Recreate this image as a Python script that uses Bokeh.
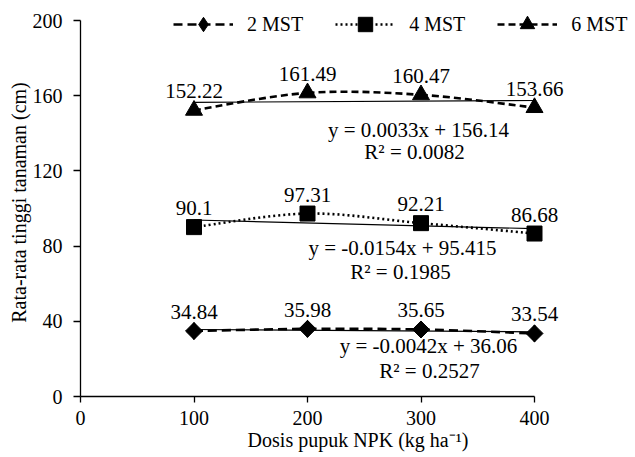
import math
from bokeh.plotting import figure
from bokeh.models import Range1d, Legend, LegendItem, Label, FixedTicker
from bokeh.embed import file_html
from bokeh.resources import INLINE
from bokeh.core.properties import value

# ---- data ----
dose = [100, 200, 300, 400]
mst2 = [34.84, 35.98, 35.65, 33.54]
mst4 = [90.1, 97.31, 92.21, 86.68]
mst6 = [152.22, 161.49, 160.47, 153.66]
series_names = ["2 MST", "4 MST", "6 MST"]
slopes = [-0.0042, -0.0154, 0.0033]
intercepts = [36.06, 95.415, 156.14]
r2 = [0.2527, 0.1985, 0.0082]
x_ticks = [0, 100, 200, 300, 400]
y_ticks = [0, 40, 80, 120, 160, 200]

FONT = "Liberation Serif"
FS = "20px"
FS_LBL = "21px"

# layout (pixels)
W, H = 635, 457
LEFT, RIGHT, TOP, BOTTOM = 80, 0, 8, 61
FRAME_W = W - LEFT - RIGHT
FRAME_H = H - TOP - BOTTOM
PX_X = 454 / 400.0    # px per x unit
PX_Y = 376 / 200.0    # px per y unit

p = figure(width=W, height=H, output_backend="svg", toolbar_location=None,
           x_range=Range1d(0, FRAME_W / PX_X), y_range=Range1d(0, FRAME_H / PX_Y),
           min_border_left=LEFT, min_border_right=RIGHT, min_border_top=TOP, min_border_bottom=BOTTOM)
p.outline_line_color = None
p.grid.visible = False
p.background_fill_color = "white"
p.border_fill_color = "white"

for ax in (p.xaxis[0], p.yaxis[0]):
    ax.axis_line_color = "black"
    ax.axis_line_width = 1.3
    ax.major_tick_line_color = "black"
    ax.major_tick_line_width = 1.3
    ax.minor_tick_line_color = None
    ax.major_tick_in = 0
    ax.major_label_text_font = FONT
    ax.major_label_text_font_size = FS
    ax.major_label_text_color = "black"
    ax.axis_label_text_font = FONT
    ax.axis_label_text_font_size = FS
    ax.axis_label_text_font_style = "normal"
    ax.axis_label_text_color = "black"

p.xaxis.ticker = FixedTicker(ticks=x_ticks)
p.yaxis.ticker = FixedTicker(ticks=y_ticks)
p.xaxis.bounds = (x_ticks[0], x_ticks[-1])
p.yaxis.bounds = (y_ticks[0], y_ticks[-1])
p.xaxis.major_tick_out = 6
p.yaxis.major_tick_out = 7
p.xaxis.major_label_standoff = 8
p.yaxis.major_label_standoff = 11
p.xaxis.axis_label = "Dosis pupuk NPK (kg ha\u207b\u00b9)"
p.yaxis.axis_label = "Rata-rata tinggi tanaman (cm)"
p.xaxis.axis_label_standoff = 1
p.yaxis.axis_label_standoff = 0


def smooth_ctrl(xs, ys):
    n = len(xs)
    out = {k: [] for k in ("x0", "y0", "x1", "y1", "cx0", "cy0", "cx1", "cy1")}
    for i in range(n - 1):
        im = max(i - 1, 0)
        ip2 = min(i + 2, n - 1)
        out["x0"].append(xs[i]); out["y0"].append(ys[i])
        out["x1"].append(xs[i + 1]); out["y1"].append(ys[i + 1])
        out["cx0"].append(xs[i] + (xs[i + 1] - xs[im]) / 6)
        out["cy0"].append(ys[i] + (ys[i + 1] - ys[im]) / 6)
        out["cx1"].append(xs[i + 1] - (xs[ip2] - xs[i]) / 6)
        out["cy1"].append(ys[i + 1] - (ys[ip2] - ys[i]) / 6)
    return out


series = [mst2, mst4, mst6]
dashes = ["9 5", "2 3", "7 4"]
legend_markers = ["diamond", "square", "triangle"]
legend_sizes = [17, 15, 17]
markers = ["square", "square", "triangle"]
angles = [math.pi / 4, 0, 0]
msizes = [12, 16, 18]
items = []
for ys, name, dash, lmk, lms, mk, ang, ms, m, b in zip(series, series_names, dashes, legend_markers,
                                                       legend_sizes, markers, angles, msizes,
                                                       slopes, intercepts):
    # linear trend line
    p.line([dose[0], dose[-1]], [m * dose[0] + b, m * dose[-1] + b], line_color="black", line_width=1.2)
    c = smooth_ctrl(dose, ys)
    bz = p.bezier(x0=c["x0"], y0=c["y0"], x1=c["x1"], y1=c["y1"],
                  cx0=c["cx0"], cy0=c["cy0"], cx1=c["cx1"], cy1=c["cy1"],
                  line_color="black", line_width=2.6, line_dash=dash)
    lsc = p.scatter(dose, ys, marker=lmk, size=lms, fill_color="black", line_color="black", line_width=1)
    if mk != lmk or ang != 0:
        p.scatter(dose, ys, marker=mk, angle=ang, size=ms, fill_color="black", line_color="black",
                  line_width=1)
    p.text(dose, ys, text=[str(v) for v in ys], text_font=value(FONT), text_font_size=FS_LBL,
           text_align="center", text_baseline="middle", y_offset=-19, text_color="black")
    items.append(LegendItem(label=name, renderers=[bz, lsc]))

legend = Legend(items=items, orientation="horizontal", location=(93, FRAME_H - 34),
                glyph_width=60, glyph_height=36, label_standoff=14, spacing=32,
                padding=0, margin=0, border_line_color=None, background_fill_alpha=0,
                label_text_font=FONT, label_text_font_size=FS, label_text_color="black")
p.add_layout(legend, "center")

# equation labels (data coordinates): (x_eq, y_eq, x_r2, y_r2)
eq_pos = [(306.6, 26.6, 307.5, 13.6), (283.7, 79.0, 281.9, 66.0), (297.8, 141.5, 294.3, 130.2)]
for (ex, ey1, rx, ey2), m, b, r in zip(eq_pos, slopes, intercepts, r2):
    p.add_layout(Label(x=ex, y=ey1, text=f"y = {m}x + {b}", text_align="center", text_baseline="middle",
                       text_font=FONT, text_font_size=FS_LBL, text_color="black"))
    p.add_layout(Label(x=rx, y=ey2, text=f"R\u00b2 = {r}", text_align="center", text_baseline="middle",
                       text_font=FONT, text_font_size=FS_LBL, text_color="black"))

open("out.html", "w").write(file_html(p, INLINE))
